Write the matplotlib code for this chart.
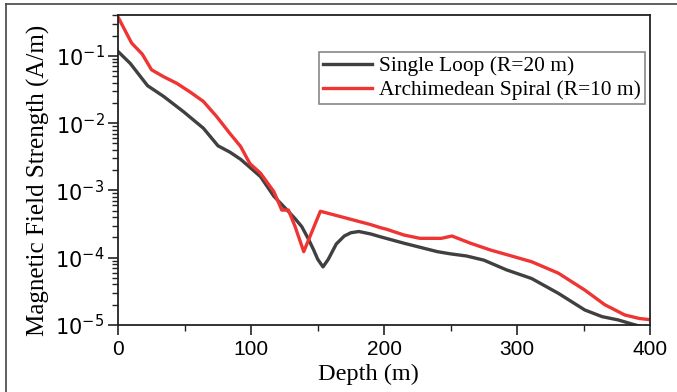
import matplotlib
matplotlib.use("Agg")
import matplotlib.pyplot as plt
from matplotlib.ticker import LogLocator, MultipleLocator, NullFormatter
from matplotlib.lines import Line2D

plt.rcParams['mathtext.fontset'] = 'custom'
plt.rcParams['mathtext.rm'] = 'Liberation Sans'
plt.rcParams['mathtext.it'] = 'Liberation Sans:italic'
plt.rcParams['mathtext.sf'] = 'Liberation Sans'

# Data
loop_depth = [0, 9, 22, 34, 49, 64, 75, 84, 92, 99, 107, 117, 127, 133, 138, 143, 147,
              150, 154, 158, 164, 170, 175, 181, 190, 197, 215, 240, 250, 262, 275,
              292, 311, 331, 351, 364, 376, 389, 400]
loop_H = [0.115, 0.077, 0.036, 0.025, 0.0148, 0.0084, 0.0046, 0.0037, 0.0029, 0.0022,
          0.0016, 0.00082, 0.00051, 0.00038, 0.00029, 0.00019, 0.00013,
          9.5e-5, 7.3e-5, 9.5e-5, 1.6e-4, 2.1e-4, 2.35e-4, 2.45e-4, 2.25e-4, 2.05e-4,
          1.64e-4, 1.23e-4, 1.14e-4, 1.06e-4, 9.2e-5,
          6.6e-5, 4.9e-5, 2.96e-5, 1.67e-5, 1.33e-5, 1.19e-5, 1.0e-5, 8.8e-6]

spiral_depth = [0, 10, 18, 25, 34, 44, 54, 64, 74, 84, 92, 99, 107, 117, 123, 128, 133,
                139.5, 152, 190, 197, 202, 215, 227, 243, 251, 265, 280, 293, 311, 331,
                351, 366, 381, 392, 400]
spiral_H = [0.37, 0.155, 0.106, 0.062, 0.049, 0.039, 0.029, 0.021, 0.0125, 0.0070,
            0.0045, 0.0025, 0.0018, 0.00096, 0.00051, 0.00051, 0.00029,
            0.000123, 0.00049, 0.00031, 0.00028, 0.000264, 0.000217, 0.000194,
            0.000194, 0.00021, 0.000164, 0.00013, 0.00011, 8.7e-5, 5.9e-5,
            3.3e-5, 2.0e-5, 1.41e-5, 1.25e-5, 1.2e-5]

labels = ["Single Loop (R=20 m)", "Archimedean Spiral (R=10 m)"]
colors = ['#404040', '#ef3434']

W, H = 677, 392
fig = plt.figure(figsize=(W / 100, H / 100), dpi=100)
ax = fig.add_axes([118.3 / W, 1 - 325 / H, (650 - 118.3) / W, (325 - 15) / H])

ax.plot(loop_depth, loop_H, color=colors[0], lw=2.4, label=labels[0], solid_joinstyle='round')
ax.plot(spiral_depth, spiral_H, color=colors[1], lw=2.4, label=labels[1], solid_joinstyle='round')

ax.set_yscale('log')
ax.set_xlim(0, 400)
ax.set_ylim(1e-5, 0.404)
ax.xaxis.set_major_locator(MultipleLocator(100))
ax.xaxis.set_minor_locator(MultipleLocator(50))
ax.yaxis.set_major_locator(LogLocator(base=10, numticks=10))
ax.yaxis.set_minor_locator(LogLocator(base=10, subs=range(2, 10), numticks=20))
ax.yaxis.set_minor_formatter(NullFormatter())

for s in ax.spines.values():
    s.set_linewidth(1.3)
    s.set_color('#222222')

ax.tick_params(which='major', direction='out', length=7, width=1.2, labelsize=15,
               colors='#222222', labelcolor='black')
ax.tick_params(which='minor', direction='out', length=4, width=1.0, colors='#222222')
ax.tick_params(axis='x', which='major', pad=4)
ax.tick_params(axis='y', which='major', pad=3)
for lab in ax.get_xticklabels():
    lab.set_fontfamily('Liberation Sans')

ax.set_xlabel("Depth (m)", fontfamily='Liberation Serif', fontsize=17.5)
ax.set_ylabel("Magnetic Field Strength (A/m)", fontfamily='Liberation Serif', fontsize=18)
ax.xaxis.set_label_coords(0.47, -0.125)
ax.yaxis.set_label_coords(-0.128, 0.465)

leg = ax.legend(loc='upper right', bbox_to_anchor=(0.9906, 0.8806), borderaxespad=0,
                prop={'family': 'Liberation Serif', 'size': 15.4}, frameon=True,
                fancybox=False, edgecolor='#888888', framealpha=1, handlelength=2.3,
                handletextpad=0.3, labelspacing=0.18, borderpad=0.2)
leg.get_frame().set_linewidth(1.2)

# Outer figure border (top and left edges visible)
fig.add_artist(Line2D([6 / W, 1], [1 - 4 / H, 1 - 4 / H], transform=fig.transFigure,
                      color='#444444', lw=1.2))
fig.add_artist(Line2D([6 / W, 6 / W], [0, 1 - 4 / H], transform=fig.transFigure,
                      color='#444444', lw=1.2))

fig.savefig("out.png", dpi=100)
